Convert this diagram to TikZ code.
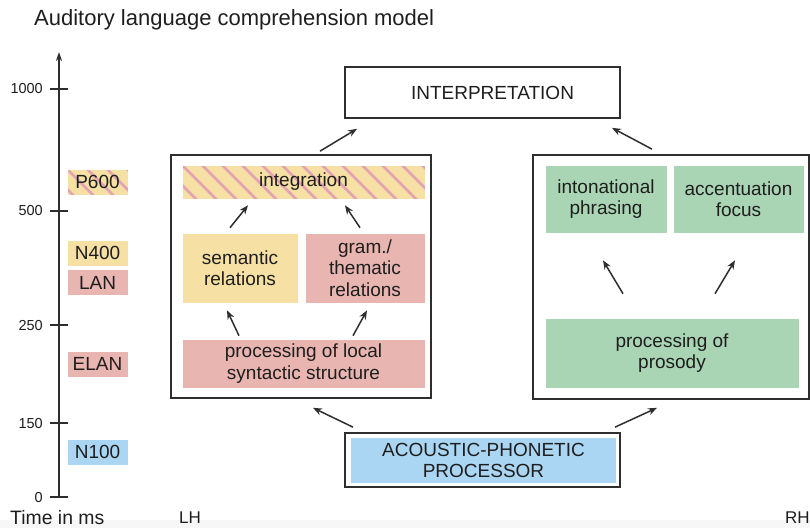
\documentclass[tikz,border=0pt]{standalone}
\usepackage{fontspec}
\setmainfont{Liberation Sans}
\usetikzlibrary{calc,arrows.meta}
\definecolor{cyel}{HTML}{F6E0A4}
\definecolor{cpink}{HTML}{E9B5B1}
\definecolor{cstripe}{HTML}{E4A3B3}
\definecolor{cgreen}{HTML}{A9D5B5}
\definecolor{cblue}{HTML}{AAD6F3}
\definecolor{cline}{HTML}{2E2E2E}
\definecolor{ctext}{HTML}{1E1E1E}
\begin{document}
\begin{tikzpicture}[x=1pt,y=-1pt,
  boxtxt/.style={inner sep=0pt, align=center, text=ctext, font=\fontsize{19}{21.5}\selectfont},
  fbox/.style={boxtxt, draw=white, line width=0.6pt},
  frame/.style={draw=cline, line width=1.7pt, fill=white, inner sep=0pt},
  stripes/.style={path picture={\foreach \i in {-80,-60,...,280}{\draw[cstripe,line width=2.6pt] ($(path picture bounding box.north west)+(\i,0)$) -- ++(70,70);}}},
  arr/.style={-{Stealth[length=9pt,width=7pt]}, line width=1.5pt, draw=cline},
  tick/.style={font=\fontsize{14.5}{16}\selectfont, text=ctext, anchor=east, inner sep=0pt}
]
\useasboundingbox (0,0) rectangle (810,528);
\fill[gray!6] (0,520) rectangle (810,528);

% title
\node[anchor=base west, inner sep=0pt, text=ctext, font=\fontsize{22}{26}\selectfont] (title) at (34,25) {Auditory language comprehension model};

% time axis
\coordinate (ax0) at (59,497);
\coordinate (axtop) at (59,52);
\draw[line width=1.8pt, draw=cline, -{Stealth[length=9pt,width=6pt]}] (ax0) -- (axtop);
\foreach \yy/\lab/\nm in {89/1000/t1000, 211/500/t500, 325/250/t250, 423/150/t150, 497/0/t0}{
  \draw[line width=1.8pt, draw=cline] (50,\yy) -- (68,\yy);
  \node[tick] (\nm) at (43,\yy) {\lab};
}
\node[anchor=base west, inner sep=0pt, text=ctext, font=\fontsize{19.4}{22}\selectfont] (timelab) at (10,524.5) {Time in ms};

% ERP components
\node[fbox, fill=cyel, stripes, minimum width=61pt, minimum height=26pt] (p600) at (97.5,182) {P600};
\node[fbox, fill=cyel, minimum width=61pt, minimum height=26pt] (n400) at (97.5,253) {N400};
\node[fbox, fill=cpink, minimum width=61pt, minimum height=26pt] (lan) at (97.5,282.5) {LAN};
\node[fbox, fill=cpink, minimum width=61pt, minimum height=26pt] (elan) at (97.5,364) {ELAN};
\node[fbox, fill=cblue, minimum width=61pt, minimum height=26pt] (n100) at (97.5,452) {N100};

% interpretation
\node[frame, boxtxt, draw=cline, line width=1.7pt, minimum width=275pt, minimum height=51pt] (interp) at (482.5,92.5) {\hspace*{20pt}INTERPRETATION};

% LH box
\node[frame, minimum width=260pt, minimum height=243pt] (lh) at (301,276.5) {};
\node[fbox, fill=cyel, stripes, minimum width=243pt, minimum height=34pt] (integ) at (303.5,182) {integration};
\node[fbox, fill=cyel, minimum width=116pt, minimum height=70pt] (sem) at (240,268) {semantic\\relations};
\node[fbox, fill=cpink, minimum width=120pt, minimum height=70pt] (gram) at (365,268) {gram./\\thematic\\relations};
\node[fbox, fill=cpink, minimum width=243pt, minimum height=49pt] (local) at (303.5,363.5) {processing of local\\syntactic structure};

% RH box
\node[frame, minimum width=276pt, minimum height=244pt] (rh) at (671,277) {};
\node[fbox, fill=cgreen, minimum width=122pt, minimum height=68pt] (inton) at (606,199) {intonational\\phrasing};
\node[fbox, fill=cgreen, minimum width=131pt, minimum height=68pt] (accent) at (738.5,199) {accentuation\\focus};
\node[fbox, fill=cgreen, minimum width=254pt, minimum height=70pt] (prosody) at (672,353) {processing of\\prosody};

% acoustic-phonetic processor
\node[frame, minimum width=275pt, minimum height=54pt] (acoustic) at (482.5,460) {};
\node[boxtxt, fill=cblue, minimum width=265pt, minimum height=45pt] (acin) at (483.5,460.5) {ACOUSTIC-PHONETIC\\PROCESSOR};

% hemisphere labels
\node[anchor=base west, inner sep=0pt, text=ctext, font=\fontsize{17}{20}\selectfont] (lhlab) at (179,523) {LH};
\node[anchor=base west, inner sep=0pt, text=ctext, font=\fontsize{17}{20}\selectfont] (rhlab) at (785,523) {RH};

% arrows
\draw[arr] ($(sem.north)+(-10,-5)$) -- ($(integ.south)+(-55.5,6)$);
\draw[arr] ($(gram.north)+(-5,-5)$) -- ($(integ.south)+(41.5,6)$);
\draw[arr] ($(local.north)+(-64.5,-3)$) -- ($(sem.south)+(-13,7)$);
\draw[arr] ($(local.north)+(49.5,-3)$) -- ($(gram.south)+(2,7)$);
\draw[arr] ($(prosody.north)+(-49,-24)$) -- ($(inton.south)+(-3,27)$);
\draw[arr] ($(prosody.north)+(43,-24)$) -- ($(accent.south)+(-3.5,27)$);
\draw[arr] ($(acoustic.north)+(-129.5,-5)$) -- ($(lh.south)+(12,9)$);
\draw[arr] ($(acoustic.north)+(132.5,-5)$) -- ($(rh.south)+(-14,8)$);
\draw[arr] ($(lh.north)+(19,-3)$) -- ($(interp.south)+(-125.5,10)$);
\draw[arr] ($(rh.north)+(-19,-5)$) -- ($(interp.south)+(129.5,9)$);
\end{tikzpicture}
\end{document}
